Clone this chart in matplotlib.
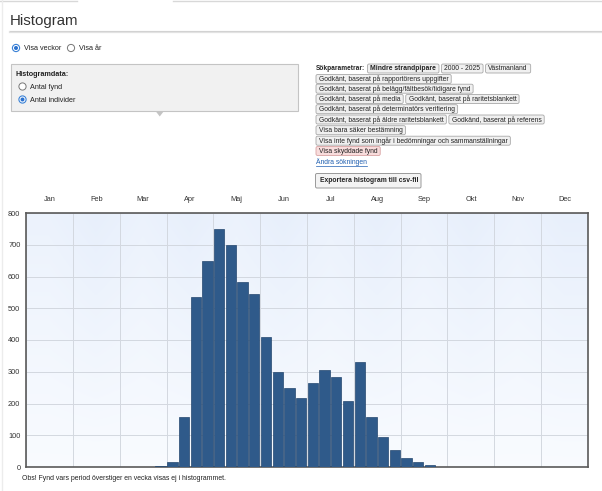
"""
Histogram page mock-up: weekly counts of Mindre strandpipare (Västmanland, 2000-2025)
"""

import matplotlib
matplotlib.use('Agg')
import matplotlib.pyplot as plt
import numpy as np
from matplotlib.patches import Rectangle, Polygon, Circle, FancyBboxPatch

plt.rcParams['font.family'] = ['Liberation Sans', 'DejaVu Sans']

# --- data -------------------------------------------------------------
months = ['Jan', 'Feb', 'Mar', 'Apr', 'Maj', 'Jun',
          'Jul', 'Aug', 'Sep', 'Okt', 'Nov', 'Dec']
bins_per_month = 4

# antal individer per histogram-stapel (4 per månad)
individuals = [0, 0, 0, 0,   0, 0, 0, 0,   0, 0, 0, 2,
               16, 156, 536, 649,   749, 700, 582, 544,
               409, 300, 248, 218,   266, 304, 282, 208,
               330, 159, 95, 55,   29, 16, 5, 1,
               0, 0, 0, 0,   0, 0, 0, 0,   0, 0, 0, 0]
y_ticks = [0, 100, 200, 300, 400, 500, 600, 700, 800]

search_rows = [
    [('Mindre strandpipare', 'bold'), ('2000 - 2025', 'normal'), ('Västmanland', 'normal')],
    [('Godkänt, baserat på rapportörens uppgifter', 'normal')],
    [('Godkänt, baserat på belägg/fältbesök/tidigare fynd', 'normal')],
    [('Godkänt, baserat på media', 'normal'), ('Godkänt, baserat på raritetsblankett', 'normal')],
    [('Godkänt, baserat på determinatörs verifiering', 'normal')],
    [('Godkänt, baserat på äldre raritetsblankett', 'normal'), ('Godkänd, baserat på referens', 'normal')],
    [('Visa bara säker bestämning', 'normal')],
    [('Visa inte fynd som ingår i bedömningar och sammanställningar', 'normal')],
    [('Visa skyddade fynd', 'protected')],
]

W, H = 602, 491
fig = plt.figure(figsize=(W / 100, H / 100), dpi=100)
fig.patch.set_facecolor('white')

# --- chart ------------------------------------------------------------
n_bins = len(individuals)
ax = fig.add_axes([26 / W, (H - 467) / H, 562 / W, 254 / H])

# soft blue background, every second month a touch darker
top = np.array([0.925, 0.950, 0.990])
bottom = np.array([0.975, 0.985, 1.0])
shade = np.linspace(0, 1, 100)[:, None, None]
cols = np.array([0.0 if i % 2 == 0 else 1.0 for i in range(len(months))])[None, :, None]
img = bottom + (top - bottom) * shade * (1 + 0.35 * cols)
ax.imshow(img[::-1], extent=[0, n_bins, 0, y_ticks[-1]], aspect='auto', zorder=0,
          interpolation='bilinear')

x = np.arange(n_bins) + 0.5
ax.bar(x, individuals, width=0.88, color='#2f5a8a', edgecolor='#24476f',
       linewidth=0.5, zorder=3)

ax.set_xlim(0, n_bins)
ax.set_ylim(0, y_ticks[-1])
ax.xaxis.tick_top()
ax.set_xticks(np.arange(len(months)) * bins_per_month + bins_per_month / 2)
ax.set_xticklabels(months)
ax.set_xticks(np.arange(len(months) + 1) * bins_per_month, minor=True)
ax.set_yticks(y_ticks)
ax.tick_params(which='both', length=0, labelsize=5.3, colors='#333')
ax.tick_params(axis='x', pad=7)
ax.tick_params(axis='y', pad=4)
ax.grid(which='minor', axis='x', color='#d3d8e0', linewidth=0.7, zorder=1)
ax.grid(which='major', axis='y', color='#d3d8e0', linewidth=0.7, zorder=1)
ax.grid(which='major', axis='x', visible=False)
ax.set_axisbelow(True)
for s in ax.spines.values():
    s.set_color('#5a5a5a')
    s.set_linewidth(1.2)

# --- page overlay (pixel coords) ---------------------------------------
ov = fig.add_axes([0, 0, 1, 1])
ov.set_xlim(0, W)
ov.set_ylim(H, 0)
ov.axis('off')
ov.patch.set_visible(False)
renderer = fig.canvas.get_renderer()

ov.plot([0, 77], [0.6, 0.6], color='#d8d8d8', lw=1)
ov.plot([173, W], [0.6, 0.6], color='#d8d8d8', lw=1)
ov.plot([1.5, 1.5], [0, H], color='#ececec', lw=1)

ov.text(10, 21, 'Histogram', fontsize=10.8, color='#333', va='center')
ov.plot([10, W], [32, 32], color='#e2e2e2', lw=1.6)
ov.plot([10, W], [31, 31], color='#cfcfcf', lw=0.6)


def radio(cx, cy, checked):
    if checked:
        ov.add_patch(Circle((cx, cy), 3.6, fc='white', ec='#3b82d6', lw=0.8))
        ov.add_patch(Circle((cx, cy), 2.0, fc='#2a72d0', ec='none'))
    else:
        ov.add_patch(Circle((cx, cy), 3.6, fc='white', ec='#777', lw=0.7))


radio(16, 48, True)
ov.text(24.5, 48.5, 'Visa veckor', fontsize=5.2, color='#222', va='center')
radio(71, 48, False)
ov.text(79, 48.5, 'Visa år', fontsize=5.2, color='#222', va='center')

ov.add_patch(Rectangle((11, 63.5), 287, 47, fc='#f1f1f1', ec='#c4c4c4', lw=0.8))
ov.add_patch(Polygon([[155.5, 111], [164, 111], [159.75, 116.5]], closed=True,
                     fc='#c4c4c4', ec='none'))
ov.text(16, 74.5, 'Histogramdata:', fontsize=5.2, weight='bold', color='#222', va='center')
radio(22.5, 86.5, False)
ov.text(30, 87, 'Antal fynd', fontsize=5.2, color='#222', va='center')
radio(22.5, 99.5, True)
ov.text(30, 100, 'Antal individer', fontsize=5.2, color='#222', va='center')

# search parameter tags
ov.text(315.5, 68.5, 'Sökparametrar:', fontsize=4.72, weight='bold', color='#222', va='center')
row_y = [68.5, 79, 88.7, 99, 109.2, 119.5, 130.2, 140.7, 151]
pad = 2.8
for r, (row, ty) in enumerate(zip(search_rows, row_y)):
    left = 367.5 if r == 0 else 316
    for label, kind in row:
        t = ov.text(left + pad, ty + 0.3, label, fontsize=4.9, va='center', color='#222',
                    weight='bold' if kind == 'bold' else 'normal', zorder=3)
        w = t.get_window_extent(renderer).width
        fc, ec = ('#f8dcdc', '#d9a3a3') if kind == 'protected' else ('#f0f0f0', '#a8a8a8')
        ov.add_patch(FancyBboxPatch((left, ty - 4.5), w + 2 * pad, 9,
                                    boxstyle='round,pad=0,rounding_size=1.6',
                                    fc=fc, ec=ec, lw=0.6, zorder=2))
        left += w + 2 * pad + 2.5

link = ov.text(316, 162.5, 'Ändra sökningen', fontsize=4.9, color='#1f5fb0', va='center')
lw_ = link.get_window_extent(renderer).width
ov.plot([316, 316 + lw_], [166, 166], color='#1f5fb0', lw=0.5)

btn = ov.text(319.5, 181, 'Exportera histogram till csv-fil', fontsize=4.9, weight='bold',
              color='#222', va='center', zorder=3)
bw = btn.get_window_extent(renderer).width
ov.add_patch(FancyBboxPatch((315.5, 173.5), bw + 7, 14.5,
                            boxstyle='round,pad=0,rounding_size=1.5',
                            fc='#f3f3f3', ec='#9a9a9a', lw=0.7, zorder=2))

ov.text(22, 478, 'Obs! Fynd vars period överstiger en vecka visas ej i histogrammet.',
        fontsize=4.95, color='#222', va='center')

fig.savefig('out.png', dpi=100, facecolor='white')
